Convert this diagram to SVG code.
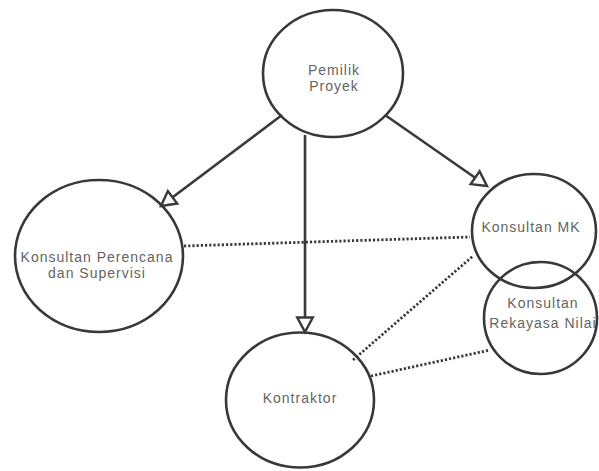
<svg xmlns="http://www.w3.org/2000/svg" width="599" height="471" viewBox="0 0 599 471">
  <style>
    .node { fill: none; stroke: #383838; stroke-width: 2.6; }
    .label { font-family: "Liberation Sans", Arial, sans-serif; font-size: 14px; fill: #646464; text-anchor: middle; letter-spacing: 1px; }
    .flow { stroke: #3a3a3a; stroke-width: 2.6; fill: none; marker-end: url(#open-arrow); }
    .link { stroke: #3a3a3a; stroke-width: 2.8; fill: none; stroke-dasharray: 2.2 2; }
  </style>
  <defs>
    <marker id="open-arrow" markerUnits="userSpaceOnUse" markerWidth="20" markerHeight="20" viewBox="-15 -9 17 18" refX="0" refY="0" orient="auto">
      <path d="M0,0 L-13,-7 L-13,7 Z" fill="#ffffff" stroke="#3a3a3a" stroke-width="2.2" stroke-linejoin="miter"/>
    </marker>
  </defs>
  <rect width="599" height="471" fill="#ffffff"/>

  <!-- connectors -->
  <g id="connectors">
    <line class="flow" x1="282" y1="115" x2="161" y2="206"/>
    <line class="flow" x1="305" y1="135" x2="305" y2="332"/>
    <line class="flow" x1="385" y1="115" x2="487" y2="186"/>
    <line class="link" x1="184" y1="246" x2="470" y2="237"/>
    <line class="link" x1="353" y1="360" x2="473" y2="256"/>
    <line class="link" x1="371" y1="376" x2="490" y2="350"/>
  </g>

  <g id="pemilik-proyek">
    <ellipse class="node" cx="333" cy="73.5" rx="70" ry="63.5"/>
    <text class="label" x="334" y="75">Pemilik</text>
    <text class="label" x="334" y="91">Proyek</text>
  </g>

  <g id="konsultan-perencana">
    <ellipse class="node" cx="99" cy="256" rx="84" ry="76"/>
    <text class="label" x="97" y="262">Konsultan Perencana</text>
    <text class="label" x="97" y="278">dan Supervisi</text>
  </g>

  <g id="konsultan-mk">
    <ellipse class="node" cx="534" cy="231" rx="62" ry="57"/>
    <text class="label" x="531" y="232">Konsultan MK</text>
  </g>

  <g id="konsultan-rekayasa-nilai">
    <ellipse class="node" cx="540.5" cy="318" rx="56.5" ry="56"/>
    <text class="label" x="543" y="308">Konsultan</text>
    <text class="label" x="543" y="328">Rekayasa Nilai</text>
  </g>

  <g id="kontraktor">
    <ellipse class="node" cx="300" cy="400" rx="74" ry="67.5"/>
    <text class="label" x="300" y="403">Kontraktor</text>
  </g>
</svg>
